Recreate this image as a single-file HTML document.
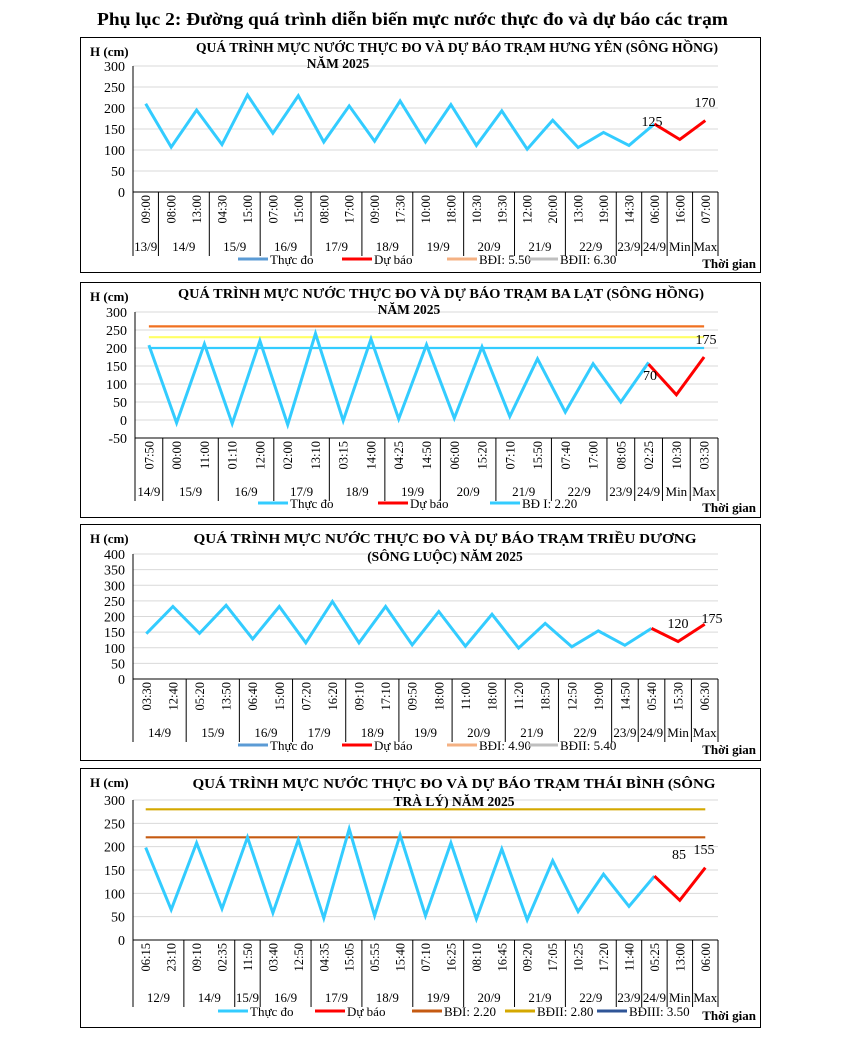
<!DOCTYPE html>
<html><head><meta charset="utf-8">
<style>
html,body{margin:0;padding:0;background:#fff;}
svg{display:block;font-family:"Liberation Serif","DejaVu Serif",serif;}
</style></head>
<body>
<svg id="page" width="845" height="1057" viewBox="0 0 845 1057" xmlns="http://www.w3.org/2000/svg">
<text x="97" y="25" font-size="17.5" font-weight="bold" textLength="631" lengthAdjust="spacingAndGlyphs">Phụ lục 2: Đường quá trình diễn biến mực nước thực đo và dự báo các trạm</text>
</svg>
<script>
// ---------- Chart 1: Hưng Yên ----------
const c1Times = ["09:00","08:00","13:00","04:30","15:00","07:00","15:00","08:00","17:00","09:00","17:30","10:00","18:00","10:30","19:30","12:00","20:00","13:00","19:00","14:30","06:00","16:00","07:00"];
const c1Dates = ["13/9","14/9","15/9","16/9","17/9","18/9","19/9","20/9","21/9","22/9","23/9","24/9","Min","Max"];
const c1DateSpans = [1,2,2,2,2,2,2,2,2,2,1,1,1,1];
const c1Observed = [210,107,195,113,231,140,229,119,205,121,217,119,208,111,193,102,171,106,142,111,162];
const c1Forecast = [162,125,170];
const c1Ticks = [0,50,100,150,200,250,300];
const c1Levels = [];
// ---------- Chart 2: Ba Lạt ----------
const c2Times = ["07:50","00:00","11:00","01:10","12:00","02:00","13:10","03:15","14:00","04:25","14:50","06:00","15:20","07:10","15:50","07:40","17:00","08:05","02:25","10:30","03:30"];
const c2Dates = ["14/9","15/9","16/9","17/9","18/9","19/9","20/9","21/9","22/9","23/9","24/9","Min","Max"];
const c2DateSpans = [1,2,2,2,2,2,2,2,2,1,1,1,1];
const c2Observed = [208,-8,211,-10,220,-13,240,-2,225,3,209,5,203,10,170,22,156,50,160];
const c2Forecast = [155,70,175];
const c2Ticks = [-50,0,50,100,150,200,250,300];
const c2Levels = [260,230,200];
// ---------- Chart 3: Triều Dương ----------
const c3Times = ["03:30","12:40","05:20","13:50","06:40","15:00","07:20","16:20","09:10","17:10","09:50","18:00","11:00","18:00","11:20","18:50","12:50","19:00","14:50","05:40","15:30","06:30"];
const c3Dates = ["14/9","15/9","16/9","17/9","18/9","19/9","20/9","21/9","22/9","23/9","24/9","Min","Max"];
const c3DateSpans = [2,2,2,2,2,2,2,2,2,1,1,1,1];
const c3Observed = [145,232,146,236,128,232,116,248,116,232,109,216,105,207,99,178,103,154,108,162];
const c3Forecast = [162,120,175];
const c3Ticks = [0,50,100,150,200,250,300,350,400];
const c3Levels = [];
// ---------- Chart 4: Thái Bình ----------
const c4Times = ["06:15","23:10","09:10","02:35","11:50","03:40","12:50","04:35","15:05","05:55","15:40","07:10","16:25","08:10","16:45","09:20","17:05","10:25","17:20","11:40","05:25","13:00","06:00"];
const c4Dates = ["12/9","14/9","15/9","16/9","17/9","18/9","19/9","20/9","21/9","22/9","23/9","24/9","Min","Max"];
const c4DateSpans = [2,2,1,2,2,2,2,2,2,2,1,1,1,1];
const c4Observed = [198,65,208,67,220,58,215,47,238,52,225,52,208,45,195,43,170,61,141,72,137];
const c4Forecast = [137,85,155];
const c4Ticks = [0,50,100,150,200,250,300];
const c4Levels = [220,280];

const NS = "http://www.w3.org/2000/svg";
const svg = document.getElementById("page");
function mk(tag, attrs, parent, text){
  const e = document.createElementNS(NS, tag);
  for (const k in attrs) e.setAttribute(k, attrs[k]);
  if (text !== undefined) e.textContent = text;
  (parent || svg).appendChild(e);
  return e;
}

const charts = [
 {id:"hung-yen", frame:[80,37,680,235], left:133, right:718, yTop:66, yBot:192, times:c1Times, dates:c1Dates, spans:c1DateSpans, obs:c1Observed, fc:c1Forecast, ticks:c1Ticks, levels:c1Levels, levelColors:[],
  hLabelY:56, titles:[["QUÁ TRÌNH MỰC NƯỚC THỰC ĐO VÀ DỰ BÁO TRẠM HƯNG YÊN  (SÔNG HỒNG)",457,52,522],["NĂM 2025",338,68,0]],
  dateY:251, sepBottom:256, legendY:263,
  legend:[["Thực đo","#5b9bd5",238],["Dự báo","#ff0000",342],["BĐI: 5.50","#f4b183",447],["BĐII: 6.30","#bfbfbf",528]],
  fcLabels:[[652,126],[705,107]]},
 {id:"ba-lat", frame:[80,282,680,235], left:135, right:718, yTop:312, yBot:438, times:c2Times, dates:c2Dates, spans:c2DateSpans, obs:c2Observed, fc:c2Forecast, ticks:c2Ticks, levels:c2Levels, levelColors:["#f07020","#ffff66","#33ccff"],
  hLabelY:301, titles:[["QUÁ TRÌNH MỰC NƯỚC THỰC ĐO VÀ DỰ BÁO TRẠM BA LẠT (SÔNG HỒNG)",441,298,526],["NĂM 2025",409,314,0]],
  dateY:496, sepBottom:501, legendY:507,
  legend:[["Thực đo","#33ccff",258],["Dự báo","#ff0000",378],["BĐ I: 2.20","#33ccff",490]],
  fcLabels:[[650,380],[706,344]]},
 {id:"trieu-duong", frame:[80,524,680,236], left:133, right:718, yTop:554, yBot:679, times:c3Times, dates:c3Dates, spans:c3DateSpans, obs:c3Observed, fc:c3Forecast, ticks:c3Ticks, levels:c3Levels, levelColors:[],
  hLabelY:543, titles:[["QUÁ TRÌNH MỰC NƯỚC THỰC ĐO VÀ DỰ BÁO TRẠM  TRIỀU DƯƠNG",445,543,503],["(SÔNG  LUỘC) NĂM 2025",445,561,0]],
  dateY:737, sepBottom:742, legendY:749,
  legend:[["Thực đo","#5b9bd5",238],["Dự báo","#ff0000",342],["BĐI: 4.90","#f4b183",447],["BĐII: 5.40","#bfbfbf",528]],
  fcLabels:[[678,628],[712,623]]},
 {id:"thai-binh", frame:[80,768,680,259], left:133, right:718, yTop:800, yBot:940, times:c4Times, dates:c4Dates, spans:c4DateSpans, obs:c4Observed, fc:c4Forecast, ticks:c4Ticks, levels:c4Levels, levelColors:["#c55a11","#d4a800"],
  hLabelY:787, titles:[["QUÁ TRÌNH MỰC NƯỚC THỰC ĐO VÀ DỰ BÁO TRẠM THÁI BÌNH (SÔNG",454,788,523],["TRÀ LÝ) NĂM 2025",454,806,0]],
  dateY:1002, sepBottom:1007, legendY:1015,
  legend:[["Thực đo","#33ccff",218],["Dự báo","#ff0000",315],["BĐI: 2.20","#c55a11",412],["BĐII: 2.80","#d4a800",505],["BĐIII: 3.50","#2f5597",597]],
  fcLabels:[[679,859],[704,854]]}
];

charts.forEach(c => {
  const g = mk("g", {});
  
  
  const [fx,fy,fw,fh] = c.frame;
  const fr = mk("rect",{x:fx+0.5,y:fy+0.5,width:fw,height:fh,fill:"none",stroke:"#000","stroke-width":1},g);
  
  
  const vmin = c.ticks[0], vmax = c.ticks[c.ticks.length-1];
  const yS = v => c.yBot - (v - vmin) / (vmax - vmin) * (c.yBot - c.yTop);
  const n = c.times.length;
  const cw = (c.right - c.left) / n;
  const xS = i => c.left + cw * (i + 0.5);
  c.ticks.forEach(t => {
    const y = yS(t);
    if (t !== vmin) {
      const gl = mk("line",{x1:c.left,x2:c.right,y1:y,y2:y,stroke:"#d9d9d9","stroke-width":1},g);
      
      
    }
    const tl = mk("text",{x:c.left-8,y:y+5,"font-size":14,"text-anchor":"end"},g,String(t));
    
    
  });
  const ya = mk("line",{x1:c.left,x2:c.left,y1:c.yTop,y2:c.yBot,stroke:"#000","stroke-width":1},g);
  
  
  const xa = mk("line",{x1:c.left,x2:c.right,y1:c.yBot,y2:c.yBot,stroke:"#000","stroke-width":1},g);
  
  
  const yt = mk("text",{x:fx+10,y:c.hLabelY,"font-size":13,"font-weight":"bold"},g,"H (cm)");
  
  
  c.titles.forEach(tt => {
    const at = {x:tt[1],y:tt[2],"font-size":13.5,"font-weight":"bold","text-anchor":"middle"};
    if (tt[3]) { at.textLength = tt[3]; at.lengthAdjust = "spacingAndGlyphs"; }
    const te = mk("text",at,g,tt[0]);
    
    
  });
  c.times.forEach((t,i) => {
    const x = xS(i) + 4.5, y = c.yBot + 3;
    const te = mk("text",{x:x,y:y,"font-size":12.5,"text-anchor":"end",transform:`rotate(-90 ${x} ${y})`},g,t);
    
    
  });
  let idx = 0;
  const sep0 = mk("line",{x1:c.left,x2:c.left,y1:c.yBot,y2:c.sepBottom,stroke:"#000"},g);
  
  
  c.dates.forEach((d,k) => {
    const s = c.spans[k];
    const x0 = c.left + idx*cw, x1 = c.left + (idx+s)*cw;
    const te = mk("text",{x:(x0+x1)/2,y:c.dateY,"font-size":13,"text-anchor":"middle"},g,d);
    
    
    const sl = mk("line",{x1:x1,x2:x1,y1:c.yBot,y2:c.sepBottom,stroke:"#000"},g);
    
    
    idx += s;
  });
  c.levels.forEach((lv,k) => {
    const y = yS(lv);
    const ll = mk("line",{x1:xS(0),x2:xS(n-1),y1:y,y2:y,stroke:c.levelColors[k],"stroke-width":2.2},g);
    
    
  });
  const op = c.obs.map((v,i)=>xS(i).toFixed(1)+","+yS(v).toFixed(1)).join(" ");
  const ol = mk("polyline",{points:op,fill:"none",stroke:"#33ccff","stroke-width":3,"stroke-linejoin":"miter"},g);
  
  
  const start = c.obs.length - 1;
  const fp = c.fc.map((v,i)=>xS(start+i).toFixed(1)+","+yS(v).toFixed(1)).join(" ");
  const fl = mk("polyline",{points:fp,fill:"none",stroke:"#ff0000","stroke-width":3},g);
  
  
  [1,2].forEach((j,k) => {
    const p = c.fcLabels[k];
    const te = mk("text",{x:p[0],y:p[1],"font-size":14,"text-anchor":"middle"},g,String(c.fc[j]));
    
    
  });
  c.legend.forEach(L => {
    const lg = mk("g",{},g);
    
    
    mk("line",{x1:L[2],x2:L[2]+30,y1:c.legendY-4,y2:c.legendY-4,stroke:L[1],"stroke-width":3},lg);
    mk("text",{x:L[2]+32,y:c.legendY+1,"font-size":13},lg,L[0]);
  });
  const tg = mk("text",{x:756,y:c.legendY+5,"font-size":13,"font-weight":"bold","text-anchor":"end"},g,"Thời gian");
  
  
});
</script>
</body></html>
